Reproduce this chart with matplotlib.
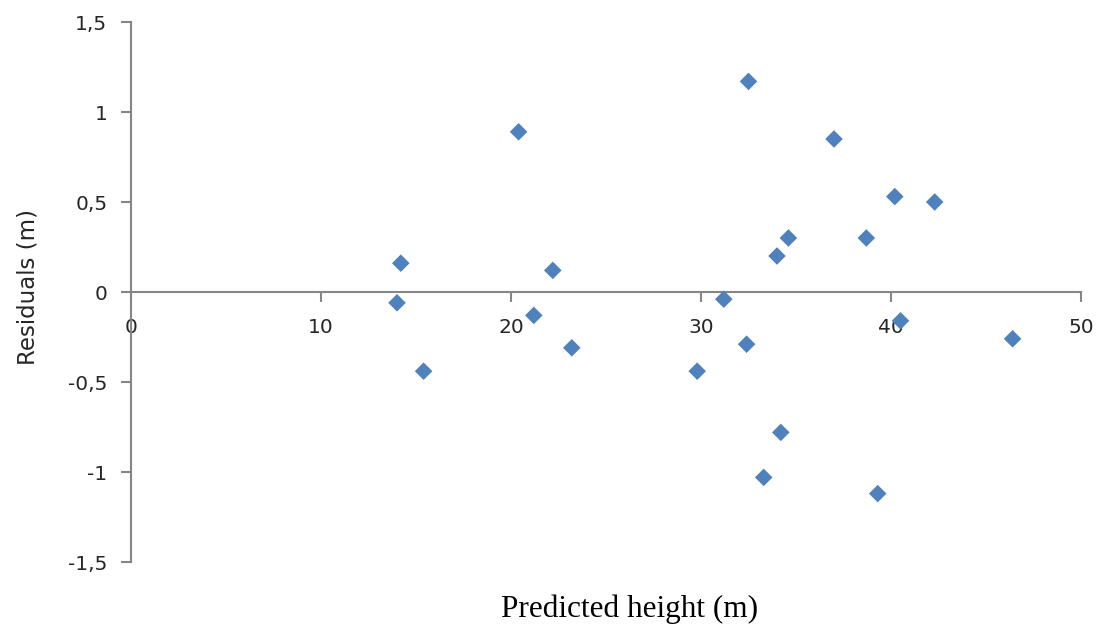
import matplotlib
matplotlib.use("Agg")
import matplotlib.pyplot as plt
from matplotlib.ticker import FuncFormatter

# Valores
altura_prevista = [14.2, 14.0, 15.4, 20.4, 21.2, 22.2, 23.2, 29.8, 31.2, 32.5, 32.4,
                   33.3, 34.0, 34.2, 34.6, 37.0, 38.7, 39.3, 40.2, 40.5, 42.3, 46.4]
residuos = [0.16, -0.06, -0.44, 0.89, -0.13, 0.12, -0.31, -0.44, -0.04, 1.17, -0.29,
            -1.03, 0.20, -0.78, 0.30, 0.85, 0.30, -1.12, 0.53, -0.16, 0.50, -0.26]

cor_eixo = "#868686"
cor_texto = "#262626"

fig = plt.figure(figsize=(10.97, 6.26), dpi=100)
ax = fig.add_axes([131/1097, 64/626, 950/1097, 540/626])

ax.scatter(altura_prevista, residuos, marker="D", s=80, color="#4F81BD",
           edgecolors="none", zorder=3)

ax.set_xlim(0, 50)
ax.set_ylim(-1.5, 1.5)
ax.set_xticks(range(0, 51, 10))
ax.set_yticks([-1.5, -1, -0.5, 0, 0.5, 1, 1.5])

fmt = FuncFormatter(lambda v, p: f"{v:g}".replace(".", ","))
ax.yaxis.set_major_formatter(fmt)

# eixo x passando pelo zero
ax.spines["bottom"].set_position(("data", 0))
for s in ["top", "right"]:
    ax.spines[s].set_visible(False)
for s in ["left", "bottom"]:
    ax.spines[s].set_color(cor_eixo)
    ax.spines[s].set_linewidth(1.5)

ax.tick_params(axis="both", colors=cor_eixo, length=7, width=1.5, labelsize=14.5,
               labelcolor=cor_texto)
ax.tick_params(axis="x", direction="out", pad=12)
ax.tick_params(axis="y", direction="out", pad=10)

ax.set_ylabel("Residuals (m)", fontsize=16.5, color=cor_texto)
ax.yaxis.set_label_coords(-0.096, 0.509)
fig.text(0.574, 0.026, "Predicted height (m)", ha="center", va="center",
         fontsize=22.5, family="Liberation Serif", color="black")

fig.savefig("out.png", dpi=100, facecolor="white")
